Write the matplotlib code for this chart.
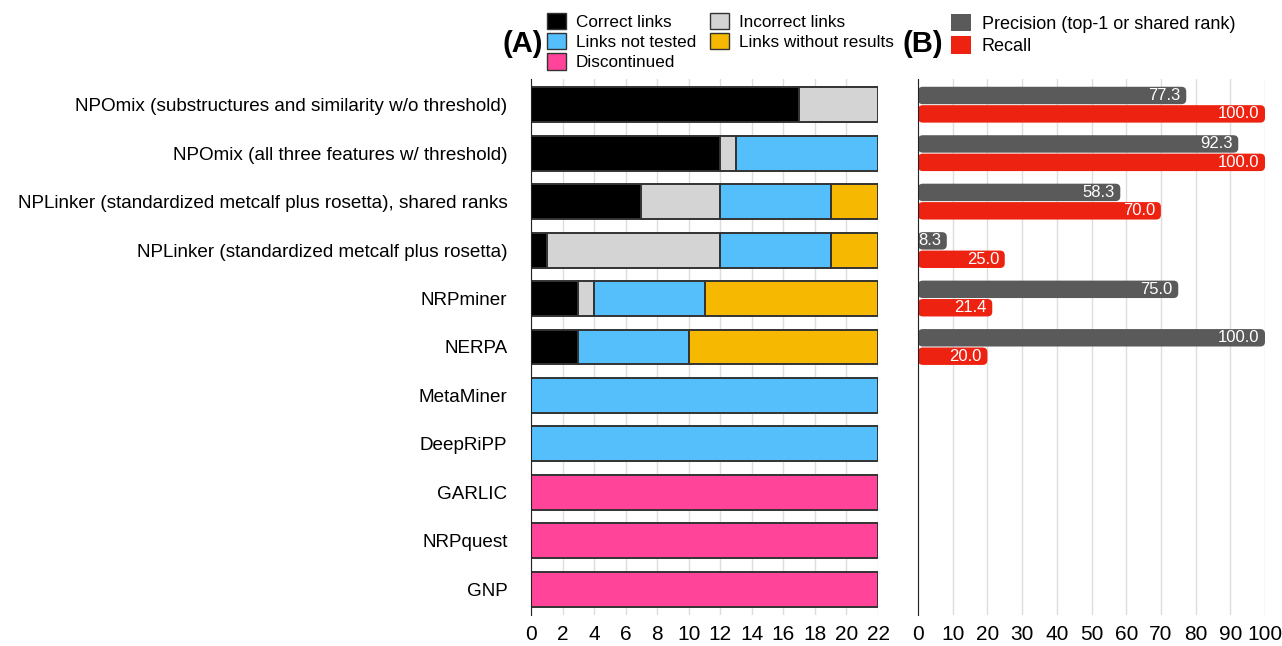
import numpy as np
import matplotlib.pyplot as plt
from matplotlib.patches import Patch, FancyBboxPatch

plt.rcParams['font.family'] = ['Liberation Sans', 'DejaVu Sans']

tools = [
    "NPOmix (substructures and similarity w/o threshold)",
    "NPOmix (all three features w/ threshold)",
    "NPLinker (standardized metcalf plus rosetta), shared ranks",
    "NPLinker (standardized metcalf plus rosetta)",
    "NRPminer",
    "NERPA",
    "MetaMiner",
    "DeepRiPP",
    "GARLIC",
    "NRPquest",
    "GNP",
]

correct = [17, 12, 7, 1, 3, 3, 0, 0, 0, 0, 0]
incorrect = [5, 1, 5, 11, 1, 0, 0, 0, 0, 0, 0]
not_tested = [0, 9, 7, 7, 7, 7, 22, 22, 0, 0, 0]
no_results = [0, 0, 3, 3, 11, 12, 0, 0, 0, 0, 0]
discontinued = [0, 0, 0, 0, 0, 0, 0, 0, 22, 22, 22]

precision = [77.3, 92.3, 58.3, 8.3, 75.0, 100.0]
recall = [100.0, 100.0, 70.0, 25.0, 21.4, 20.0]

seg_names = ["Correct links", "Incorrect links", "Links not tested",
             "Links without results", "Discontinued"]
seg_colors = ["#000000", "#d4d4d4", "#55bffc", "#f6b800", "#ff4499"]
segs = [correct, incorrect, not_tested, no_results, discontinued]

fig = plt.figure(figsize=(12.82, 6.46), dpi=100)
axA = fig.add_axes([531 / 1282, 31 / 646, 347 / 1282, 536 / 646])
axB = fig.add_axes([918 / 1282, 31 / 646, 347 / 1282, 536 / 646])

y = np.arange(len(tools))
left = np.zeros(len(tools))
for vals, col in zip(segs, seg_colors):
    vals = np.array(vals, dtype=float)
    mask = vals > 0
    axA.barh(y[mask], vals[mask], left=left[mask], height=0.72, color=col,
             edgecolor="#333333", linewidth=1.4, zorder=3)
    left += vals

axA.set_xlim(0, 22)
axA.set_ylim(len(tools) - 0.47, -0.53)
axA.set_xticks(np.arange(0, 23, 2))
axA.set_yticks(y)
axA.set_yticklabels(tools, fontsize=13.6)
axA.grid(axis="x", color="#dddddd", linewidth=1, zorder=0)
for s in ["top", "right", "bottom"]:
    axA.spines[s].set_visible(False)
axA.spines["left"].set_color("#222222")
axA.spines["left"].set_zorder(4)
axA.tick_params(axis="y", length=0, pad=17)
axA.tick_params(axis="x", length=0, pad=7, labelsize=15)

# panel B with rounded bars
yb = np.arange(len(precision))
h = 0.38
for vals, off, col in [(precision, -0.19, "#5a5a5a"), (recall, 0.19, "#ee2211")]:
    bars = axB.barh(yb + off, vals, height=h, color=col, zorder=3)
    for b, v in zip(bars, vals):
        b.set_visible(False)
        x0, y0, w, hh = b.get_x(), b.get_y(), b.get_width(), b.get_height()
        fb = FancyBboxPatch((x0, y0 + 0.01), w, hh - 0.02,
                            boxstyle="round,pad=0,rounding_size=1.4",
                            mutation_aspect=0.07, facecolor=col,
                            edgecolor="none", zorder=3)
        axB.add_patch(fb)
        axB.text(x0 + w - 1.6, y0 + hh / 2, f"{v:.1f}", color="white",
                 ha="right", va="center", fontsize=12, zorder=4)

axB.set_xlim(0, 100)
axB.set_ylim(len(tools) - 0.47, -0.53)
axB.set_xticks(np.arange(0, 101, 10))
axB.set_yticks([])
axB.grid(axis="x", color="#dddddd", linewidth=1, zorder=0)
for s in ["top", "right", "bottom"]:
    axB.spines[s].set_visible(False)
axB.spines["left"].set_color("#222222")
axB.spines["left"].set_zorder(4)
axB.tick_params(axis="x", length=0, pad=7, labelsize=15)

# legends
handlesA = [Patch(facecolor=seg_colors[i], edgecolor="#333333", label=seg_names[i])
            for i in [0, 2, 4, 1, 3]]
fig.legend(handles=handlesA, ncol=2, loc="upper left",
           bbox_to_anchor=(547 / 1282, 1 - 13 / 646), frameon=False,
           fontsize=12.3, handlelength=1.1, handleheight=1.1,
           handletextpad=0.6, labelspacing=0.18, columnspacing=0.8,
           borderpad=0, borderaxespad=0)
fig.text(502 / 1282, 1 - 44 / 646, "(A)", fontsize=21, fontweight="bold",
         va="center", ha="left")

handlesB = [Patch(facecolor="#5a5a5a", label="Precision (top-1 or shared rank)"),
            Patch(facecolor="#ee2211", label="Recall")]
fig.legend(handles=handlesB, loc="upper left",
           bbox_to_anchor=(951 / 1282, 1 - 14 / 646), frameon=False,
           fontsize=13, handlelength=1.1, handleheight=1.1,
           handletextpad=0.6, labelspacing=0.2, borderpad=0, borderaxespad=0)
fig.text(902 / 1282, 1 - 44 / 646, "(B)", fontsize=21, fontweight="bold",
         va="center", ha="left")

fig.savefig("out.png", dpi=100)
